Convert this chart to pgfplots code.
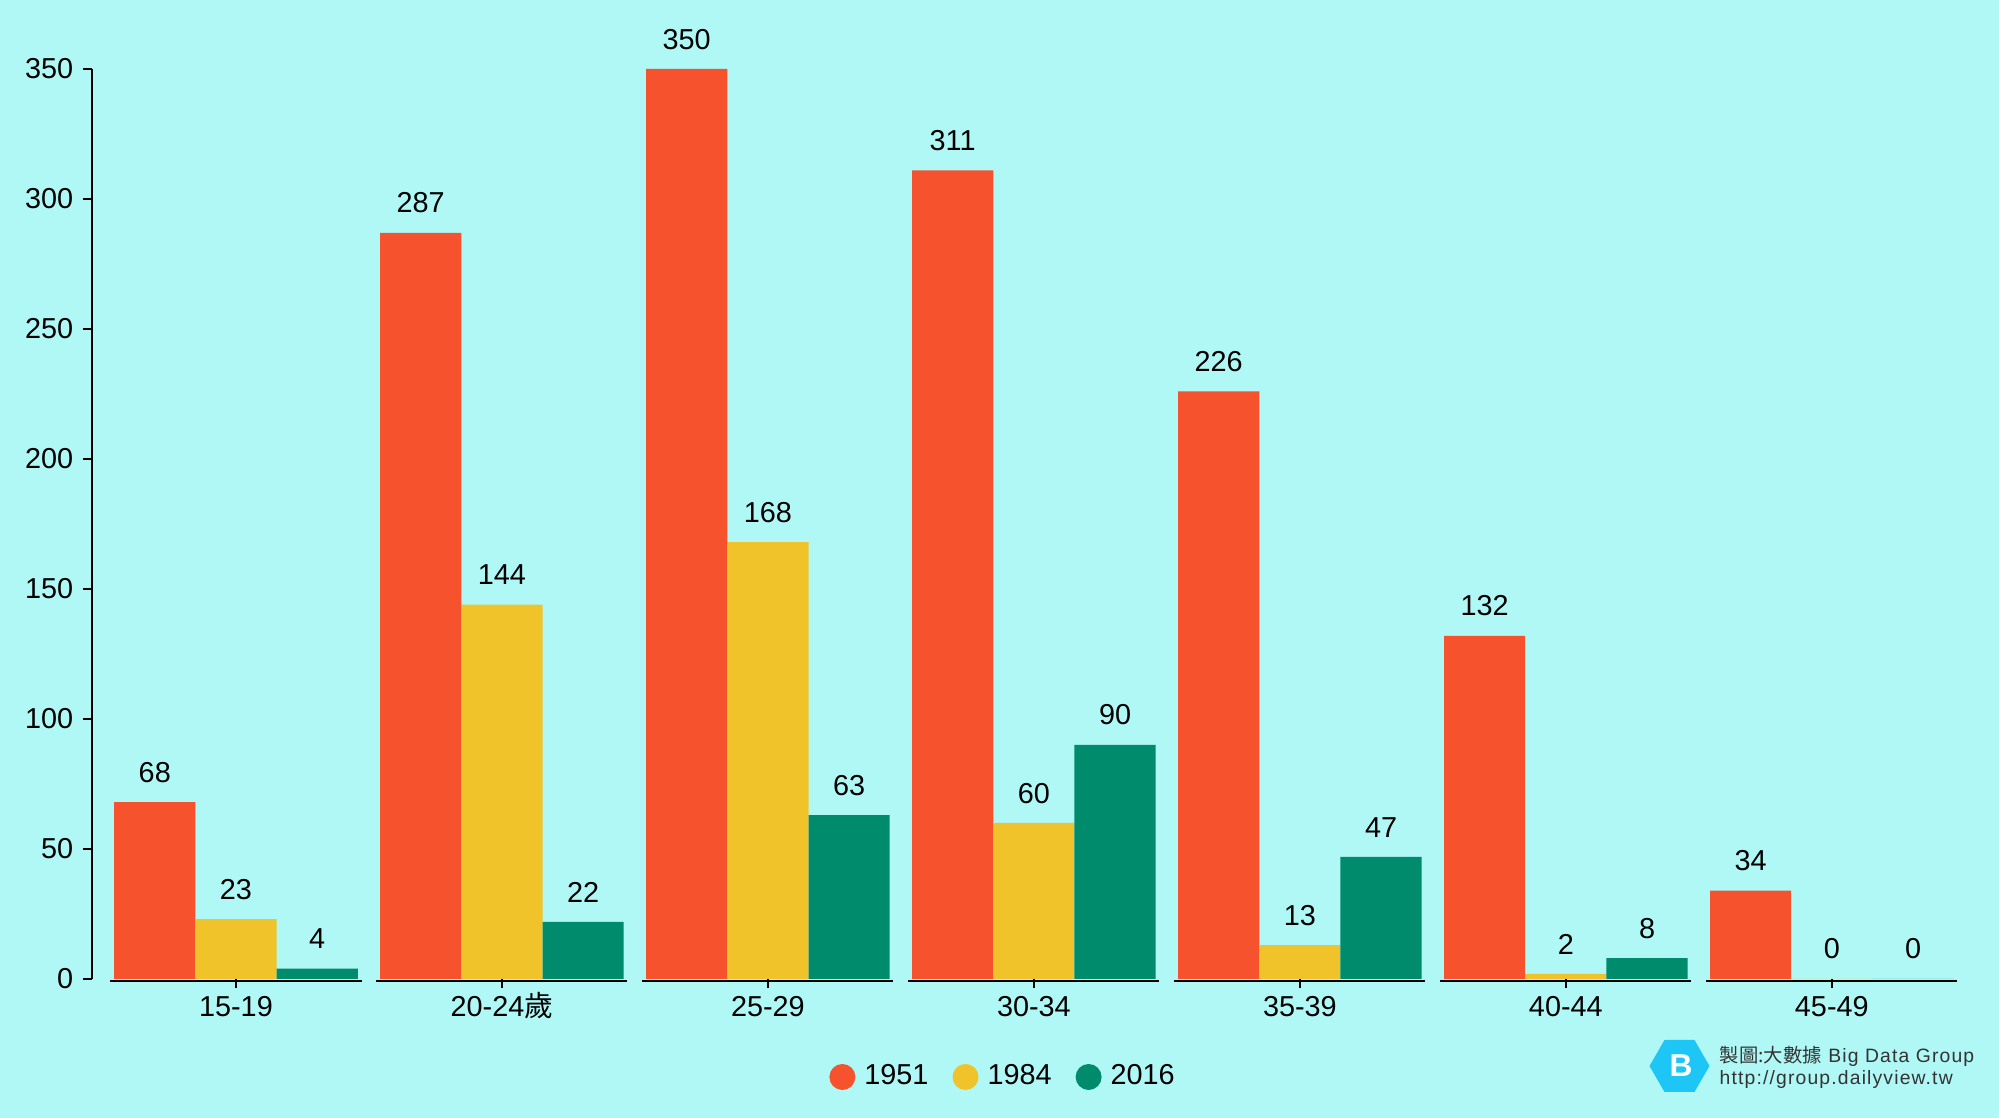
\documentclass[border=0pt]{standalone}
\usepackage{pgfplots}
\pgfplotsset{compat=1.18}
\usepackage{fontspec}
\setmainfont{Liberation Sans}
\newfontfamily\cjk{Noto Sans CJK TC}
\usetikzlibrary{shapes.geometric}
\definecolor{bg}{HTML}{AFF8F6}
\definecolor{c51}{HTML}{F5522D}
\definecolor{c84}{HTML}{F0C32A}
\definecolor{c16}{HTML}{008B6C}
\definecolor{logo}{HTML}{1EC6F5}
\definecolor{wm}{HTML}{333333}
\newcommand{\mf}{\fontsize{8.2}{9.8}\selectfont}
\begin{document}
\begin{tikzpicture}
\fill[bg] (0,0) rectangle (19.99,11.18);
\begin{axis}[
  at={(0.918cm,1.39cm)}, anchor=south west,
  scale only axis, width=18.73cm, height=9.10cm,
  ybar=0pt, bar width=0.812cm,
  xmin=-0.542, xmax=6.5, ymin=0, ymax=350,
  clip=false,
  axis x line*=bottom, axis y line*=left,
  axis line style={-, black, line width=0.65pt},
  x axis line style={draw=none},
  tick align=outside, major tick length=0.09cm,
  tick style={black, line width=0.65pt},
  xtick={0,...,6},
  xticklabels={15-19,{20-24{\cjk 歲}},25-29,30-34,35-39,40-44,45-49},
  ytick={0,50,...,350},
  /pgf/number format/assume math mode=true,
  tick label style={font=\mf},
  xticklabel style={anchor=base, inner sep=0pt, yshift=-0.29cm},
  yticklabel style={anchor=east, inner sep=0pt, xshift=-0.09cm},
  nodes near coords,
  every node near coord/.append style={font=\mf, anchor=south, inner sep=0pt, yshift=0.19cm, black},
  legend image code/.code={\fill[#1] (0.13cm,0cm) circle (0.13cm);},
  legend style={at={(0.486,-0.1077)}, anchor=center, draw=none, fill=none,
    legend columns=3, font=\mf, inner sep=0pt,
    nodes={inner sep=0pt},
    /tikz/every odd column/.append style={column sep=0.09cm},
    /tikz/every even column/.append style={column sep=0.24cm}},
]
\addplot[fill=c51, draw=none] coordinates {(0,68) (1,287) (2,350) (3,311) (4,226) (5,132) (6,34)};
\addplot[fill=c84, draw=none] coordinates {(0,23) (1,144) (2,168) (3,60) (4,13) (5,2) (6,0)};
\addplot[fill=c16, draw=none] coordinates {(0,4) (1,22) (2,63) (3,90) (4,47) (5,8) (6,0)};
\legend{1951,1984,2016}
\pgfplotsinvokeforeach{0,1,2,3,4,5,6}{
  \draw[black, line width=0.75pt, yshift=-0.6pt] (axis cs:#1-0.472,0) -- (axis cs:#1+0.472,0);
}
\end{axis}
\node[regular polygon, regular polygon sides=6, fill=logo, minimum size=0.6cm, inner sep=0pt] at (16.795,0.52) {};
\node[text=white, font=\bfseries\fontsize{9}{9}\selectfont, inner sep=0pt] at (16.81,0.52) {B};
\node[anchor=base west, inner sep=0pt, text=wm, font=\fontsize{5.5}{6}\selectfont\addfontfeature{LetterSpace=6}] at (17.19,0.55) {{\cjk 製圖:大數據} Big Data Group};
\node[anchor=base west, inner sep=0pt, text=wm, font=\fontsize{5.5}{6}\selectfont\addfontfeature{LetterSpace=6}] at (17.19,0.33) {http://group.dailyview.tw};
\end{tikzpicture}
\end{document}
